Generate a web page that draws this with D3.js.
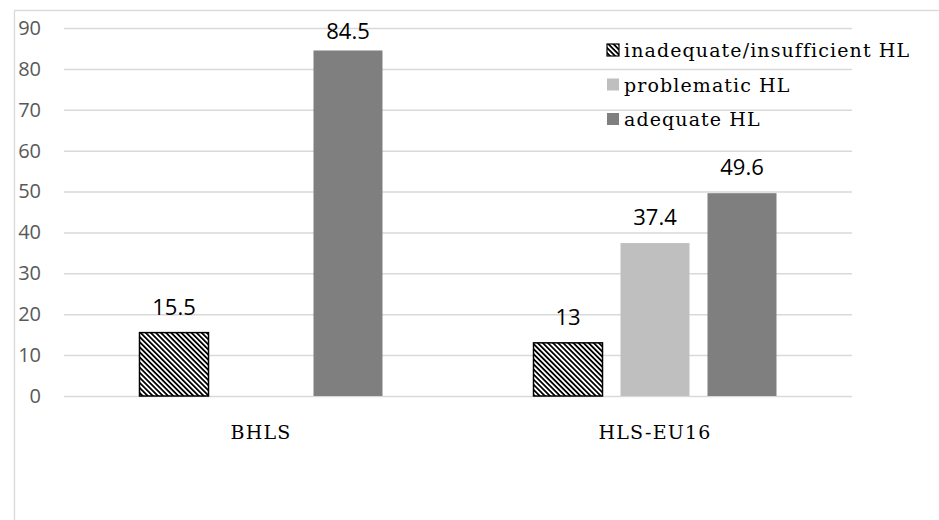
<!DOCTYPE html>
<html>
<head>
<meta charset="utf-8">
<script src="https://cdn.jsdelivr.net/npm/d3@7"></script>
<style>
  html, body { margin: 0; padding: 0; background: #fff; }
  svg { display: block; }
</style>
</head>
<body>
<svg id="chart" width="939" height="520"></svg>
<script>
const categories = ["BHLS", "HLS-EU16"];
const seriesNames = ["inadequate/insufficient HL", "problematic HL", "adequate HL"];
const inadequate = [15.5, 13];
const problematic = [null, 37.4];
const adequate = [84.5, 49.6];
const yTicks = [0, 10, 20, 30, 40, 50, 60, 70, 80, 90];

const seriesValues = [inadequate, problematic, adequate];
const fills = ["url(#hatch)", "#bfbfbf", "#7f7f7f"];

const svg = d3.select("#chart");
const W = 939, H = 520;

svg.append("rect").attr("width", W).attr("height", H).attr("fill", "#fff");

// hatch pattern
const defs = svg.append("defs");
const pat = defs.append("pattern")
  .attr("id", "hatch")
  .attr("patternUnits", "userSpaceOnUse")
  .attr("width", 3.6).attr("height", 3.6)
  .attr("patternTransform", "rotate(-45)");
pat.append("rect").attr("width", 3.6).attr("height", 3.6).attr("fill", "#fff");
pat.append("rect").attr("width", 1.8).attr("height", 3.6).attr("fill", "#000");

// outer frame
svg.append("rect")
  .attr("x", 14.5).attr("y", 10.5)
  .attr("width", 1000).attr("height", 600)
  .attr("fill", "none").attr("stroke", "#d9d9d9").attr("stroke-width", 1.3);

const y = d3.scaleLinear().domain([0, 90]).range([396, 28]);
const x0 = d3.scaleBand().domain(categories).range([64, 852]).paddingInner(0).paddingOuter(0);
const x1 = d3.scaleBand().domain(d3.range(seriesNames.length))
  .range([0, x0.bandwidth()]).paddingInner(0.207).paddingOuter(0.868);

// gridlines
const yAxis = d3.axisLeft(y).tickValues(yTicks).tickSize(-(852 - 64)).tickPadding(23);
const gy = svg.append("g").attr("transform", "translate(64,0)").call(yAxis);
gy.select(".domain").remove();
gy.selectAll(".tick line").attr("stroke", "#d9d9d9").attr("stroke-width", 1.5);
gy.selectAll(".tick text")
  .attr("fill", "#595959")
  .style("font-family", "'Open Sans', sans-serif")
  .style("font-size", "20px");

// x axis labels
const xAxis = d3.axisBottom(x0).tickSize(0).tickPadding(0);
const gx = svg.append("g").attr("transform", "translate(0,396)").call(xAxis);
gx.select(".domain").remove();
gx.selectAll(".tick text")
  .attr("y", 43).attr("dy", 0)
  .attr("fill", "#000")
  .style("font-family", "'DejaVu Serif', serif")
  .style("font-size", "19px")
  .style("letter-spacing", "1.2px");

// bars
const data = [];
categories.forEach((c, ci) => {
  seriesValues.forEach((arr, si) => {
    if (arr[ci] != null) data.push({ c, si, v: arr[ci] });
  });
});

const gb = svg.append("g");
gb.selectAll("rect").data(data).enter().append("rect")
  .attr("x", d => x0(d.c) + x1(d.si))
  .attr("width", x1.bandwidth())
  .attr("y", d => y(d.v))
  .attr("height", d => y(0) - y(d.v))
  .attr("fill", d => fills[d.si])
  .attr("stroke", d => d.si === 0 ? "#000" : "none")
  .attr("stroke-width", 1.5);

// value labels (kept inside the chart area, like the original)
gb.selectAll("text").data(data).enter().append("text")
  .attr("x", d => x0(d.c) + x1(d.si) + x1.bandwidth() / 2)
  .attr("y", d => Math.max(y(d.v) - 18, 39))
  .attr("text-anchor", "middle")
  .style("font-family", "'Open Sans', sans-serif")
  .style("font-size", "22px")
  .attr("fill", "#000")
  .text(d => d.v);

// legend
const lg = svg.append("g").attr("transform", "translate(607,44)");
seriesNames.forEach((name, i) => {
  const row = lg.append("g").attr("transform", `translate(0,${i * 34.5})`);
  row.append("rect").attr("width", 12).attr("height", 12)
    .attr("fill", fills[i])
    .attr("stroke", i === 0 ? "#000" : "none").attr("stroke-width", 1.2);
  row.append("text").attr("x", 17).attr("y", 13)
    .style("font-family", "'DejaVu Serif', serif")
    .style("font-size", "19px")
    .style("letter-spacing", "1.1px")
    .attr("fill", "#000")
    .text(name);
});
</script>
</body>
</html>
